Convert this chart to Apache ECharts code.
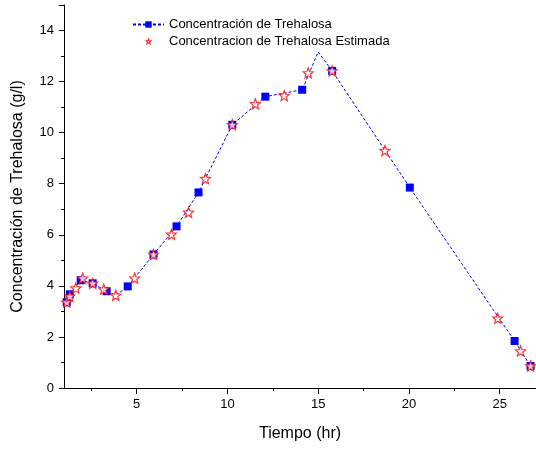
<!DOCTYPE html>
<html>
<head>
<meta charset="utf-8">
<script src="https://cdn.jsdelivr.net/npm/echarts@6/dist/echarts.min.js"></script>
<style>html,body{margin:0;padding:0;background:#fff;}#c{width:536px;height:449px;}</style>
</head>
<body>
<div id="c"></div>
<script>
// Measured trehalose concentration (blue squares)
const tiempoMedido = [1.15, 1.32, 1.92, 2.58, 3.35, 4.51, 5.93, 7.20, 8.41, 10.27, 12.09, 14.12, 15.77, 20.05, 25.82, 26.70];
const concMedida   = [3.36, 3.67, 4.22, 4.10, 3.79, 3.98, 5.23, 6.33, 7.66, 10.31, 11.41, 11.68, 12.42, 7.85, 1.84, 0.86];
// Extra points of the dashed curve without a marker
const tiempoCurvaExtra = [3.85, 15.0];
const concCurvaExtra   = [3.63, 13.16];
// Estimated concentration (red stars)
const tiempoEstimado = [1.15, 1.32, 1.65, 2.03, 2.58, 3.19, 3.85, 4.89, 5.93, 6.92, 7.86, 8.79, 10.27, 11.54, 13.13, 14.45, 15.77, 18.68, 24.89, 26.15, 26.70];
const concEstimada   = [3.36, 3.59, 3.91, 4.30, 4.10, 3.87, 3.63, 4.30, 5.23, 6.02, 6.88, 8.20, 10.31, 11.13, 11.45, 12.34, 12.42, 9.30, 2.73, 1.45, 0.86];
// Ticks
const xMajorTicks = [5, 10, 15, 20, 25];
const xMinorTicks = [2.5, 7.5, 12.5, 17.5, 22.5];

const starShape = 'M50 0L62.9 32.2L97.6 34.5L70.9 56.8L79.4 90.5L50 72L20.6 90.5L29.1 56.8L2.4 34.5L37.1 32.2Z';
const starPath = 'path://' + starShape;
const starLegendPath = 'path://M-26 -26M126 126' + starShape;
const font = 'Liberation Sans, Arial, sans-serif';

const curva = [];
tiempoMedido.forEach((t, i) => curva.push({ value: [t, concMedida[i]], m: true }));
tiempoCurvaExtra.forEach((t, i) => curva.push({ value: [t, concCurvaExtra[i]], m: false }));
curva.sort((a, b) => a.value[0] - b.value[0]);
const lineData = curva.map(p => p.m ? { value: p.value } : { value: p.value, symbol: 'none' });

const chart = echarts.init(document.getElementById('c'), null, { renderer: 'canvas' });
chart.setOption({
  animation: false,
  backgroundColor: '#fff',
  textStyle: { fontFamily: font },
  grid: { left: 64, right: 0, top: 5, bottom: 61 },
  legend: {
    orient: 'vertical', left: 127, top: 13, itemWidth: 31, itemHeight: 8, itemGap: 4,
    textStyle: { fontFamily: font, fontSize: 13, color: '#000' },
    data: [
      { name: 'Concentración de Trehalosa' },
      { name: 'Concentracion de Trehalosa Estimada', icon: starLegendPath,
        itemStyle: { color: '#ffffff', borderColor: '#ff0000', borderWidth: 1.2 } }
    ]
  },
  xAxis: [{
    type: 'value', min: 1, max: 27,
    name: 'Tiempo (hr)', nameLocation: 'middle', nameGap: 38,
    nameTextStyle: { fontFamily: font, fontSize: 16, color: '#000' },
    axisLine: { show: true, onZero: false, lineStyle: { color: '#000', width: 1 } },
    axisTick: { show: true, inside: false, length: 6, lineStyle: { color: '#000' }, customValues: xMajorTicks },
    axisLabel: { color: '#000', fontSize: 13, fontFamily: font, margin: 10, customValues: xMajorTicks },
    splitLine: { show: false }
  }, {
    type: 'value', min: 1, max: 27, position: 'bottom', gridIndex: 0,
    axisLine: { show: false, onZero: false },
    axisTick: { show: true, inside: false, length: 3, lineStyle: { color: '#000' }, customValues: xMinorTicks },
    axisLabel: { show: false, customValues: xMinorTicks },
    splitLine: { show: false }
  }],
  yAxis: {
    type: 'value', min: 0, max: 15, interval: 2,
    name: 'Concentración de Trehalosa (g/l)', nameLocation: 'middle', nameGap: 38,
    nameTextStyle: { fontFamily: font, fontSize: 16, color: '#000' },
    axisLine: { show: true, onZero: false, lineStyle: { color: '#000', width: 1 } },
    axisTick: { show: true, inside: false, length: 5, lineStyle: { color: '#000' } },
    minorTick: { show: true, splitNumber: 2, length: 3, lineStyle: { color: '#000' } },
    axisLabel: { color: '#000', fontSize: 13, fontFamily: font, margin: 10, showMaxLabel: false },
    splitLine: { show: false }
  },
  series: [{
    name: 'Concentración de Trehalosa',
    type: 'line',
    data: lineData,
    symbol: 'rect', symbolSize: 8,
    showAllSymbol: true,
    clip: false,
    itemStyle: { color: '#0000ff' },
    lineStyle: { color: '#0000ff', width: 1, type: [3, 2] },
    z: 2
  }, {
    name: 'Concentracion de Trehalosa Estimada',
    type: 'scatter',
    data: tiempoEstimado.map((t, i) => [t, concEstimada[i]]),
    symbol: starPath, symbolSize: 10,
    clip: false,
    itemStyle: { color: '#ffffff', borderColor: '#ff0000', borderWidth: 1.2 },
    z: 3
  }]
});
</script>
</body>
</html>
